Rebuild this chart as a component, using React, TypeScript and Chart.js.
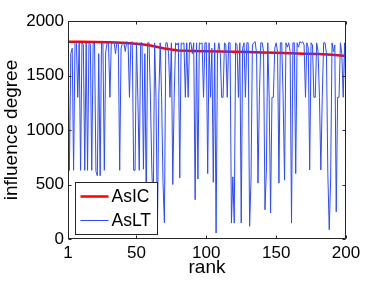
import React, { useEffect, useRef } from "react";
import { Chart, registerables } from "chart.js";

Chart.register(...registerables);

// ---------- data ----------
const ranks: number[] = Array.from({ length: 200 }, (_, i) => i + 1);

const asLTValues: number[] = [
  1800, 630, 1700, 1750, 630, 1800, 1810, 1300, 1800, 630,
  1800, 1780, 630, 1800, 630, 1800, 1790, 630, 1800, 1800,
  620, 580, 1700, 580, 1800, 1800, 630, 1720, 1800, 1800,
  1300, 1800, 1800, 1810, 1700, 1800, 1800, 630, 1750, 1800,
  1800, 1720, 1810, 1800, 1300, 1800, 1810, 630, 630, 1800,
  1300, 630, 1800, 1800, 640, 1700, 300, 1800, 1800, 1300,
  640, 240, 1800, 1300, 55, 1300, 1800, 1300, 520, 150,
  1800, 1800, 1700, 1300, 1800, 500, 1300, 1800, 1780, 1800,
  560, 1800, 1790, 1800, 1300, 1800, 1300, 1800, 1800, 1700,
  1800, 360, 1800, 550, 1800, 1790, 1800, 1300, 1800, 1800,
  600, 1800, 1300, 1750, 520, 1800, 55, 1700, 1800, 1700,
  1300, 1300, 1800, 1780, 1300, 1800, 1800, 146, 570, 146,
  1800, 1780, 1300, 1800, 146, 1750, 1800, 1300, 1800, 1800,
  116, 540, 1780, 1800, 1810, 1700, 512, 1300, 1800, 1800,
  1720, 268, 634, 1800, 1300, 238, 1300, 1300, 1750, 1800,
  1720, 512, 1800, 1800, 1300, 540, 1800, 1760, 1800, 1720,
  146, 1800, 1800, 600, 1800, 1760, 1810, 1800, 1810, 1780,
  1300, 1800, 1750, 634, 1800, 1780, 1300, 1300, 1800, 1720,
  1300, 634, 1300, 1800, 1800, 1700, 600, 85, 550, 1800,
  1720, 1780, 250, 1300, 1300, 1800, 1700, 1300, 1800, 1300,
];

const asICRanks: number[] = [1, 10, 20, 30, 40, 50, 55, 60, 65, 70, 75, 80, 90, 100, 110, 120, 130, 140, 150, 160, 170, 180, 190, 200];
const asICValues: number[] = [1810, 1810, 1808, 1805, 1800, 1792, 1785, 1775, 1762, 1748, 1738, 1730, 1725, 1722, 1720, 1718, 1716, 1712, 1708, 1704, 1700, 1697, 1690, 1678];

const seriesLabels: string[] = ["AsIC", "AsLT"];
const xTickValues: number[] = [1, 50, 100, 150, 200];
const yTickValues: number[] = [0, 500, 1000, 1500, 2000];
const xTitle = "rank";
const yTitle = "influence degree";

// ---------- styling ----------
const FONT = "'Liberation Sans', Arial, Helvetica, sans-serif";
const RED = "#ff0000";
const BLUE = "rgb(45,75,255)";
const AXIS = "#262626";

const framePlugin = {
  id: "matlabFrame",
  afterDraw(chart: any) {
    const { ctx, chartArea: a, scales } = chart;
    const xs = scales.x;
    const ys = scales.y;
    const L = Math.round(a.left) + 0.5;
    const R = Math.round(a.right) - 0.5;
    const T = Math.round(a.top) + 0.5;
    const B = Math.round(a.bottom) - 0.5;
    ctx.save();
    ctx.strokeStyle = AXIS;
    ctx.lineWidth = 1;
    ctx.strokeRect(L, T, R - L, B - T);
    const tl = 3;
    ctx.beginPath();
    xTickValues.forEach((v) => {
      const px = Math.round(xs.getPixelForValue(v)) + 0.5;
      ctx.moveTo(px, B);
      ctx.lineTo(px, B - tl);
      ctx.moveTo(px, T);
      ctx.lineTo(px, T + tl);
    });
    yTickValues.forEach((v) => {
      const py = Math.round(ys.getPixelForValue(v)) + 0.5;
      ctx.moveTo(L, py);
      ctx.lineTo(L + tl, py);
      ctx.moveTo(R, py);
      ctx.lineTo(R - tl, py);
    });
    ctx.stroke();

    // legend box
    const bx = Math.round(a.left) + 7.5;
    const by = Math.round(a.bottom) - 56.5;
    const bw = 82;
    const bh = 52;
    ctx.fillStyle = "#ffffff";
    ctx.fillRect(bx, by, bw, bh);
    ctx.strokeStyle = AXIS;
    ctx.strokeRect(bx, by, bw, bh);
    const datasets = chart.data.datasets;
    const rows = [by + 14, by + 38];
    datasets.forEach((ds: any, i: number) => {
      const yy = rows[i];
      ctx.beginPath();
      ctx.strokeStyle = ds.borderColor;
      ctx.lineWidth = ds.borderWidth;
      ctx.moveTo(bx + 5, yy);
      ctx.lineTo(bx + 33, yy);
      ctx.stroke();
      ctx.fillStyle = "#000";
      ctx.font = `17.5px ${FONT}`;
      ctx.textBaseline = "middle";
      ctx.textAlign = "left";
      ctx.fillText(ds.label, bx + 36, yy + 1);
    });
    ctx.restore();
  },
};

export default function App() {
  const canvasRef = useRef<HTMLCanvasElement | null>(null);

  useEffect(() => {
    const canvas = canvasRef.current;
    if (!canvas) return;
    const chart = new Chart(canvas, {
      type: "line",
      data: {
        datasets: [
          {
            label: seriesLabels[0],
            data: asICRanks.map((r, i) => ({ x: r, y: asICValues[i] })),
            borderColor: RED,
            borderWidth: 2.5,
            pointRadius: 0,
            tension: 0,
            fill: false,
            order: 2,
          },
          {
            label: seriesLabels[1],
            data: ranks.map((r, i) => ({ x: r, y: asLTValues[i] })),
            borderColor: BLUE,
            borderWidth: 1,
            pointRadius: 0,
            tension: 0,
            fill: false,
            order: 1,
          },
        ],
      },
      options: {
        animation: false,
        responsive: false,
        maintainAspectRatio: false,
        layout: { padding: { left: 0, top: 21, right: 36, bottom: 0 } },
        plugins: {
          legend: { display: false },
          tooltip: { enabled: false },
        },
        scales: {
          x: {
            type: "linear",
            min: 1,
            max: 200,
            afterBuildTicks: (scale: any) => {
              scale.ticks = xTickValues.map((v) => ({ value: v }));
            },
            afterFit: (scale: any) => {
              scale.height = 43;
            },
            grid: { display: false, drawTicks: false },
            border: { display: false },
            ticks: {
              color: "#000",
              font: { family: FONT, size: 17 },
              padding: 4,
              maxRotation: 0,
              autoSkip: false,
              callback: (v: any) => String(v),
            },
            title: {
              display: true,
              text: xTitle,
              color: "#000",
              font: { family: FONT, size: 19 },
              padding: { top: 0, bottom: 3 },
            },
          },
          y: {
            type: "linear",
            min: 0,
            max: 2000,
            afterBuildTicks: (scale: any) => {
              scale.ticks = yTickValues.map((v) => ({ value: v }));
            },
            afterFit: (scale: any) => {
              scale.width = 68;
            },
            grid: { display: false, drawTicks: false },
            border: { display: false },
            ticks: {
              color: "#000",
              font: { family: FONT, size: 17 },
              padding: 4,
              autoSkip: false,
              callback: (v: any) => String(v),
            },
            title: {
              display: true,
              text: yTitle,
              color: "#000",
              font: { family: FONT, size: 19 },
              padding: { top: 0, bottom: 0 },
            },
          },
        },
      },
      plugins: [framePlugin],
    });
    return () => chart.destroy();
  }, []);

  return (
    <div style={{ position: "fixed", left: 0, top: 0, width: 382, height: 282, background: "#fff" }}>
      <canvas ref={canvasRef} width={382} height={282} style={{ display: "block", width: 382, height: 282 }} />
    </div>
  );
}
